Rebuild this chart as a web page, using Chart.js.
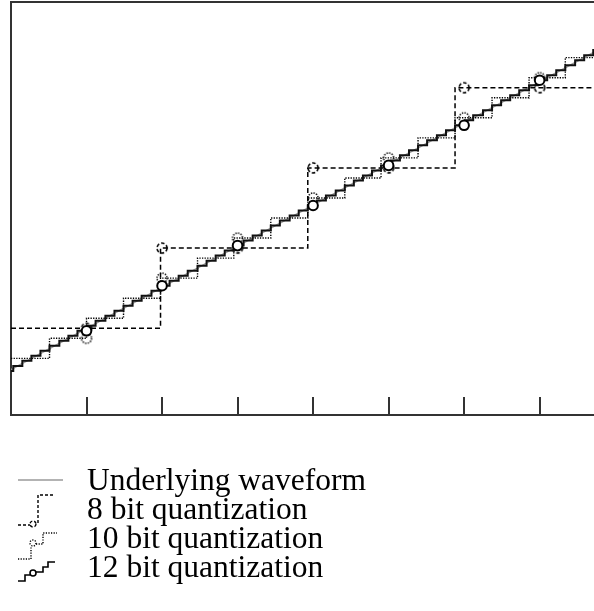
<!DOCTYPE html>
<html>
<head>
<meta charset="utf-8">
<script src="https://cdn.jsdelivr.net/npm/chart.js@4.4.1/dist/chart.umd.min.js"></script>
<style>
  html, body { margin: 0; padding: 0; background: #fff; }
  #wrap { width: 594px; height: 611px; }
</style>
</head>
<body>
<div id="wrap"><canvas id="chart" width="594" height="611"></canvas></div>
<script>
// Sample instants (tick marks on the time axis)
const sampleX = [1, 2, 3, 4, 5, 6, 7];

// Underlying waveform: a plain ramp
const waveX = [0, 7.72];
const waveY = [7.78, 71.08];

// 8 bit quantization: where the level changes, and the level
const q8X = [0, 1.98, 3.93, 5.88, 7.72];
const q8Y = [16, 32, 48, 64, 64];
const q8Samples = [16, 32, 32, 48, 48, 64, 64];

// 10 bit quantization
const q10X = [0, 0.51, 1.00, 1.49, 1.98, 2.47, 2.95, 3.44, 3.93, 4.42, 4.90, 5.39, 5.88, 6.37, 6.86, 7.34, 7.72];
const q10Y = [10, 14, 18, 22, 26, 30, 34, 38, 42, 46, 50, 54, 58, 62, 66, 70, 70];
const q10Samples = [14, 26, 34, 42, 50, 58, 66];

// 12 bit quantization
const q12X = [0, 0.03, 0.15, 0.27, 0.39, 0.51, 0.64, 0.76, 0.88, 1.01, 1.12, 1.25, 1.37, 1.49,
    1.61, 1.73, 1.86, 1.98, 2.10, 2.22, 2.34, 2.47, 2.59, 2.71, 2.83, 2.95, 3.08, 3.20, 3.32,
    3.44, 3.56, 3.69, 3.81, 3.93, 4.05, 4.17, 4.30, 4.42, 4.54, 4.66, 4.78, 4.90, 5.03, 5.15,
    5.27, 5.39, 5.51, 5.64, 5.76, 5.88, 6.01, 6.12, 6.25, 6.37, 6.49, 6.61, 6.73, 6.86, 6.98,
    7.10, 7.22, 7.34, 7.47, 7.59, 7.71, 7.72];
const q12Y = [7.5, 8.5, 9.5, 10.5, 11.5, 12.5, 13.5, 14.5, 15.5, 16.5, 17.5, 18.5, 19.5, 20.5,
    21.5, 22.5, 23.5, 24.5, 25.5, 26.5, 27.5, 28.5, 29.5, 30.5, 31.5, 32.5, 33.5, 34.5, 35.5,
    36.5, 37.5, 38.5, 39.5, 40.5, 41.5, 42.5, 43.5, 44.5, 45.5, 46.5, 47.5, 48.5, 49.5, 50.5,
    51.5, 52.5, 53.5, 54.5, 55.5, 56.5, 57.5, 58.5, 59.5, 60.5, 61.5, 62.5, 63.5, 64.5, 65.5,
    66.5, 67.5, 68.5, 69.5, 70.5, 71.5, 71.5];
const q12Samples = [15.5, 24.5, 32.5, 40.5, 48.5, 56.5, 65.5];

const legendLabels = ['Underlying waveform', '8 bit quantization', '10 bit quantization', '12 bit quantization'];

const pts = (xs, ys) => xs.map((x, i) => ({ x, y: ys[i] }));

// Chart.js points ignore borderDash, so the dashed / dotted circles are small canvases
function ringImage(dash, lw) {
    const c = document.createElement('canvas');
    c.width = 16; c.height = 16;
    const g = c.getContext('2d');
    g.strokeStyle = '#000';
    g.lineWidth = lw;
    g.setLineDash(dash);
    g.beginPath();
    g.arc(8, 8, 5, 0, Math.PI * 2);
    g.stroke();
    return c;
}
const ring8 = ringImage([3.5, 2], 1.6);
const ring10 = ringImage([1.3, 1.3], 1.5);

const framePlugin = {
    id: 'frame',
    afterDatasetsDraw(chart) {
        const { ctx, chartArea: a, scales: { x } } = chart;
        ctx.save();
        ctx.strokeStyle = '#333';
        ctx.lineWidth = 2;
        ctx.beginPath();
        ctx.moveTo(a.left - 1, a.top);
        ctx.lineTo(a.right, a.top);
        // inward tick marks at the sample instants
        sampleX.forEach(v => {
            const px = Math.round(x.getPixelForValue(v));
            ctx.moveTo(px, a.bottom);
            ctx.lineTo(px, a.bottom - 18);
        });
        ctx.stroke();
        ctx.restore();
    }
};

const legendPlugin = {
    id: 'stepLegend',
    afterDraw(chart) {
        const ctx = chart.ctx;
        ctx.save();
        ctx.lineCap = 'butt';

        // waveform
        ctx.strokeStyle = '#9a9a9a';
        ctx.lineWidth = 1.5;
        ctx.beginPath();
        ctx.moveTo(18, 480); ctx.lineTo(63, 480);
        ctx.stroke();

        // 8 bit
        ctx.strokeStyle = '#000';
        ctx.lineWidth = 1.4;
        ctx.setLineDash([3, 2]);
        ctx.beginPath();
        ctx.moveTo(18, 525); ctx.lineTo(30, 525);
        ctx.moveTo(38, 523); ctx.lineTo(38, 495); ctx.lineTo(54, 495);
        ctx.stroke();
        ctx.beginPath();
        ctx.arc(33, 524, 3, 0, Math.PI * 2);
        ctx.stroke();

        // 10 bit
        ctx.setLineDash([1.2, 1.4]);
        ctx.beginPath();
        ctx.moveTo(18, 559); ctx.lineTo(31, 559); ctx.lineTo(31, 546);
        ctx.moveTo(36, 544); ctx.lineTo(43, 544); ctx.lineTo(43, 533); ctx.lineTo(57, 533);
        ctx.stroke();
        ctx.beginPath();
        ctx.arc(33, 543, 3, 0, Math.PI * 2);
        ctx.stroke();

        // 12 bit
        ctx.setLineDash([]);
        ctx.lineWidth = 1.6;
        ctx.beginPath();
        ctx.moveTo(18, 581); ctx.lineTo(25, 581); ctx.lineTo(25, 575); ctx.lineTo(30, 575);
        ctx.moveTo(36, 572); ctx.lineTo(43, 572); ctx.lineTo(43, 567); ctx.lineTo(48, 567);
        ctx.lineTo(48, 562); ctx.lineTo(55, 562);
        ctx.stroke();
        ctx.beginPath();
        ctx.arc(33, 573, 3, 0, Math.PI * 2);
        ctx.stroke();

        // labels
        ctx.fillStyle = '#000';
        ctx.font = '31.5px "Liberation Serif", "Times New Roman", serif';
        ctx.textBaseline = 'alphabetic';
        legendLabels.forEach((t, i) => ctx.fillText(t, 87, 490 + i * 29));
        ctx.restore();
    }
};

new Chart(document.getElementById('chart'), {
    type: 'line',
    data: {
        datasets: [
            {
                label: '12 bit samples',
                data: pts(sampleX, q12Samples),
                showLine: false,
                pointRadius: 4.8,
                pointBackgroundColor: '#fff',
                pointBorderColor: '#000',
                pointBorderWidth: 2
            },
            {
                label: '12 bit quantization',
                data: pts(q12X, q12Y),
                stepped: true,
                borderColor: '#111',
                borderWidth: 2,
                pointRadius: 0
            },
            {
                label: '10 bit samples',
                data: pts(sampleX, q10Samples),
                showLine: false,
                pointStyle: ring10
            },
            {
                label: '8 bit samples',
                data: pts(sampleX, q8Samples),
                showLine: false,
                pointStyle: ring8
            },
            {
                label: '10 bit quantization',
                data: pts(q10X, q10Y),
                stepped: true,
                borderColor: '#000',
                borderWidth: 1.4,
                borderDash: [1.3, 1.3],
                pointRadius: 0
            },
            {
                label: '8 bit quantization',
                data: pts(q8X, q8Y),
                stepped: true,
                borderColor: '#000',
                borderWidth: 1.5,
                borderDash: [5, 3],
                pointRadius: 0
            },
            {
                label: 'Underlying waveform',
                data: pts(waveX, waveY),
                borderColor: '#9a9a9a',
                borderWidth: 1.5,
                pointRadius: 0
            }
        ]
    },
    options: {
        responsive: false,
        animation: false,
        events: [],
        layout: { autoPadding: false, padding: { left: 11, top: 2, right: 0, bottom: 196 } },
        plugins: { legend: { display: false }, tooltip: { enabled: false } },
        scales: {
            x: {
                type: 'linear', min: 0, max: 7.72,
                grid: { display: false, drawTicks: false },
                ticks: { display: false },
                border: { display: true, color: '#333', width: 2 }
            },
            y: {
                type: 'linear', min: -1.3, max: 81.1,
                grid: { display: false, drawTicks: false },
                ticks: { display: false },
                border: { display: true, color: '#333', width: 2 }
            }
        }
    },
    plugins: [framePlugin, legendPlugin]
});
</script>
</body>
</html>
